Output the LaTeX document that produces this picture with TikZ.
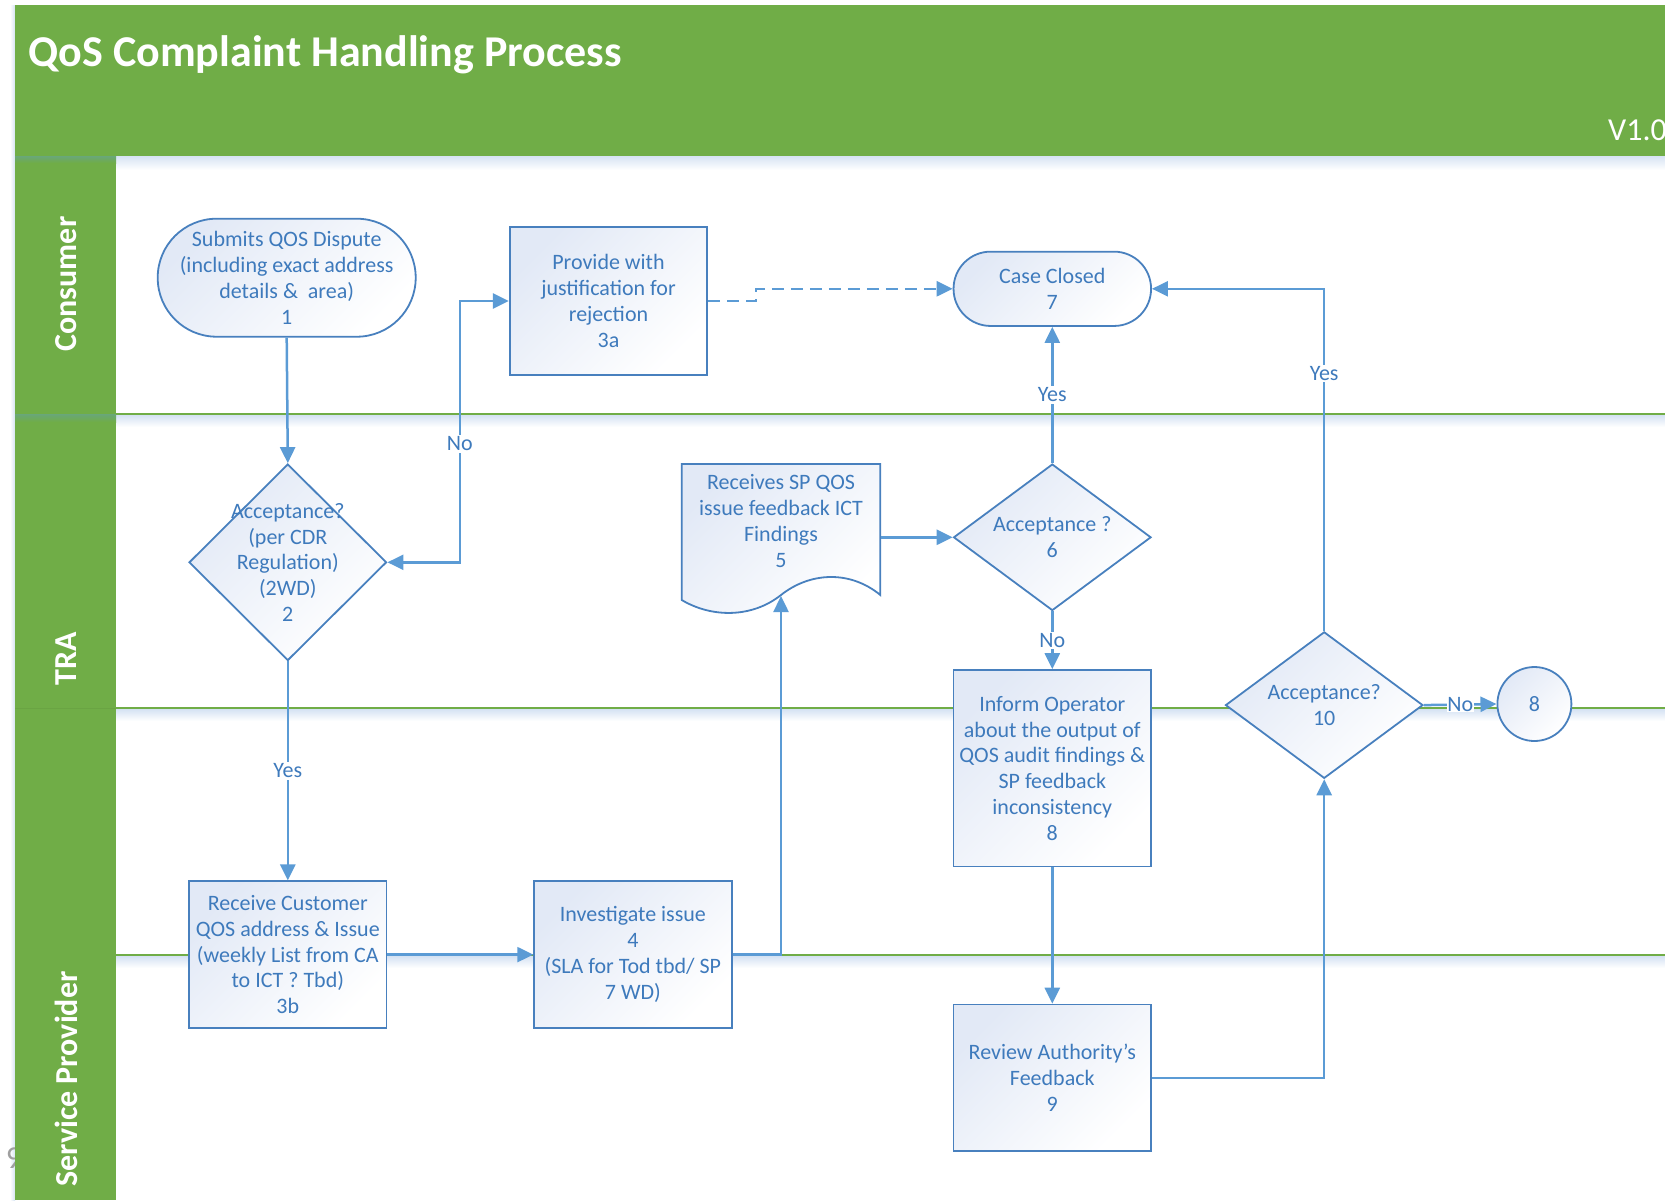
\documentclass[tikz,border=0pt]{standalone}
\usepackage{fontspec}
\setmainfont{Carlito}
\usetikzlibrary{arrows.meta,shapes.geometric,calc}
\pgfdeclarelayer{background}
\pgfsetlayers{background,main}
\definecolor{hdrgreen}{RGB}{112,173,71}
\definecolor{conn}{RGB}{91,155,213}
\definecolor{bord}{RGB}{72,128,190}
\definecolor{txt}{RGB}{62,122,188}
\definecolor{nfill}{RGB}{226,233,246}
\definecolor{shadowc}{RGB}{214,227,243}
\tikzset{
  box/.style={rectangle, draw=bord, line width=1.8pt, top color=nfill, bottom color=white, shading angle=45,
    minimum width=197.5, minimum height=146.5, inner sep=0pt, align=center, text=txt,
    font=\fontsize{22}{25.8}\selectfont},
  term/.style={box, rounded corners=37},
  dia/.style={diamond, draw=bord, line width=1.8pt, top color=nfill, bottom color=white, shading angle=45,
    inner sep=0pt, minimum width=197.5, minimum height=146.5},
  dtext/.style={align=center, text=txt, inner sep=0pt, font=\fontsize{22}{25.8}\selectfont},
  arr/.style={draw=conn, line width=2.5pt, -{Triangle[length=16pt,width=15pt]}},
  lbl/.style={fill=white, text=txt, inner sep=1.5pt, font=\fontsize{22}{24}\selectfont},
  lanetxt/.style={rotate=90, text=white, font=\fontsize{32}{34}\selectfont\bfseries},
  laneline/.style={draw=hdrgreen, line width=2.6pt}
}
\begin{document}
\begin{tikzpicture}[x=1pt,y=-1pt]
\useasboundingbox (0,0) rectangle (1665,1200);

% ---------- nodes ----------
\node[term, rounded corners=58.9, minimum width=258, minimum height=118] (t1) at (286.7,277.7)
  {Submits QOS Dispute\\(including exact address\\details \& \ area)\\1};
\node[box, minimum height=147.6] (s3a) at (608.5,301) {Provide with\\justification for\\rejection\\3a};
\node[term, minimum width=197.5, minimum height=74.3] (cc) at (1052.3,288.8) {Case Closed\\7};

\node[dia, minimum height=196.5] (d2) at (287.8,562.3) {};
\node[dtext] (t2) at (d2.center) {Acceptance?\\(per CDR\\Regulation)\\(2WD)\\2};

% document shape 5
\path[draw=bord, line width=1.8pt, top color=nfill, bottom color=white, shading angle=45]
  (681.7,464) -- (880.3,464) -- (880.3,595)
  .. controls (850,570) and (810,572) .. (781,595)
  .. controls (752,618) and (712,618) .. (681.7,600) -- cycle;
\node[dtext, minimum width=198.6] (d5) at (781,521) {Receives SP QOS\\issue feedback ICT\\Findings\\5};
\coordinate (d5b) at (781,596);

\node[dia] (d6) at (1052.3,537.3) {};
\node[dtext] (t6) at (d6.center) {Acceptance ?\\6};

\node[box, minimum height=196.5] (b8) at (1052.3,768.3)
  {Inform Operator\\about the output of\\QOS audit findings \&\\SP feedback\\inconsistency\\8};

\node[dia] (d10) at (1324.2,705.1) {};
\node[dtext] (t10) at (d10.center) {Acceptance?\\10};

\node[circle, draw=bord, line width=1.8pt, top color=nfill, bottom color=white, shading angle=45,
  minimum size=74, inner sep=0pt, text=txt, font=\fontsize{22}{25.8}\selectfont] (c8) at (1534.4,704) {8};

\node[box] (b3b) at (287.8,954.6) {Receive Customer\\QOS address \& Issue\\(weekly List from CA\\to ICT ? Tbd)\\3b};
\node[box] (b4) at (632.9,954.6) {Investigate issue\\4\\(SLA for Tod tbd/ SP\\7 WD)};
\node[box] (b9) at (1052.3,1077.8) {Review Authority’s\\Feedback\\9};

% ---------- background: header, lanes ----------
\begin{pgfonlayer}{background}
  \shade[left color=white, right color=shadowc] (10,5) rectangle (15,1200);
  \node[text=gray!75, font=\fontsize{32}{34}\selectfont, anchor=center] (pg) at (14,1158) {9};
  \fill[hdrgreen] (15,5) rectangle (1665,156);
  \fill[hdrgreen] (15,156) rectangle (116,1200);
  \shade[top color=shadowc, bottom color=white] (116,156) rectangle (1665,170);
  \shade[top color=hdrgreen!65!conn, bottom color=hdrgreen] (15,156) rectangle (116,163);
  % lane separators
  \shade[top color=shadowc, bottom color=white] (116,415.5) rectangle (1665,427);
  \shade[top color=hdrgreen!65!conn, bottom color=hdrgreen] (15,414) rectangle (116,422);
  \draw[laneline] (116,414) -- (1665,414);
  \shade[top color=shadowc, bottom color=white] (116,709.5) rectangle (1665,721);
  \draw[draw=hdrgreen!80!black, opacity=.25, line width=1pt] (15,708.5) -- (116,708.5);
  \draw[laneline] (116,708) -- (1665,708);
  \shade[top color=shadowc, bottom color=white] (116,956.5) rectangle (1665,968);
  \draw[laneline] (116,955) -- (1665,955);
\end{pgfonlayer}

\node[anchor=west, text=white, font=\fontsize{44}{46}\selectfont\bfseries] (title) at (25,55)
  {QoS Complaint Handling Process};
\node[anchor=east, text=white, font=\fontsize{32}{34}\selectfont, inner sep=0pt] (ver) at (1667,130) {V1.0};
\node[lanetxt] (lc) at (66,284) {Consumer};
\node[lanetxt] (lt) at (66,659) {TRA};
\node[lanetxt] (ls) at (66,1079) {Service Provider};

% ---------- connectors ----------
\draw[arr] (t1.south) -- (d2.north);
\draw[arr] (d2.south) -- node[lbl, pos=0.5] {Yes} (b3b.north);
\coordinate (jNo) at (459.8,444);
\draw[arr, {Triangle[length=16pt,width=15pt]}-{Triangle[length=16pt,width=15pt]}]
  (d2.east) -| (jNo) |- (s3a.west);
\node[lbl] (lNo1) at (jNo) {No};
\coordinate (jD) at (756,295);
\draw[arr, dash pattern=on 12pt off 7pt] (s3a.east) -| (jD) |- (cc.west);
\draw[arr] (b3b.east) -- (b4.west);
\draw[arr] (b4.east) -| (d5b);
\draw[arr] (d5.east |- d6.west) -- (d6.west);
\draw[arr] (d6.north) -- node[lbl, pos=0.5] {Yes} (cc.south);
\draw[arr] (d6.south) -- node[lbl, pos=0.5] {No} (b8.north);
\draw[arr] (b8.south) -- (b9.north);
\draw[arr] (b9.east) -| (d10.south);
\draw[arr] (d10.north) |- node[lbl, pos=0.376] {Yes} (cc.east);
\draw[arr] (d10.east) -- node[lbl, pos=0.5, inner sep=0.5pt] {No} (c8.west);
\end{tikzpicture}
\end{document}
